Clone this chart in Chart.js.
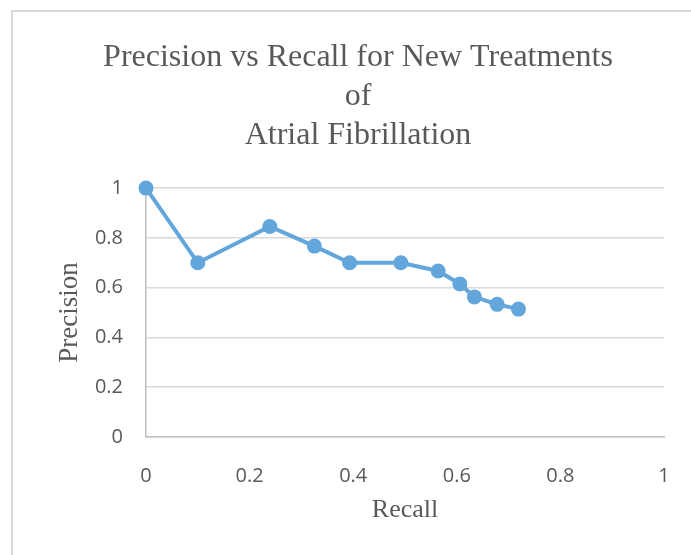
<!DOCTYPE html>
<html lang="en">
<head>
<meta charset="UTF-8">
<title>Precision vs Recall</title>
<script src="https://cdn.jsdelivr.net/npm/chart.js"></script>
<style>
  body { margin: 0; background: #fff; overflow: hidden; }
  canvas { display: block; }
</style>
</head>
<body>
<canvas id="grafico" width="691" height="555"></canvas>
<script>
// valores
const recall = [0, 0.1, 0.239, 0.325, 0.393, 0.492, 0.564, 0.606, 0.634, 0.678, 0.719];
const precision = [1, 0.7, 0.846, 0.767, 0.7, 0.7, 0.667, 0.615, 0.563, 0.533, 0.514];
const tituloLinhas = ['Precision vs Recall for New Treatments', 'of', 'Atrial Fibrillation'];

const pontos = [];
for (let i = 0; i < recall.length; i++) {
  pontos.push({ x: recall[i], y: precision[i] });
}

const cinza = '#595959';
const azul = '#63a6dc';
const serifa = '"Liberation Serif", "Times New Roman", serif';

function rotulo(v) {
  return String(Number(v.toFixed(1)));
}

// moldura do grafico (so topo e esquerda aparecem no recorte)
const moldura = {
  id: 'moldura',
  beforeDraw(chart) {
    const c = chart.ctx;
    c.save();
    c.fillStyle = '#fff';
    c.fillRect(0, 0, chart.width, chart.height);
    c.strokeStyle = '#d9d9d9';
    c.lineWidth = 2;
    c.beginPath();
    c.moveTo(12, chart.height);
    c.lineTo(12, 11);
    c.lineTo(chart.width, 11);
    c.stroke();
    c.restore();
  }
};

const ctx = document.getElementById('grafico').getContext('2d');
new Chart(ctx, {
  type: 'scatter',
  data: {
    datasets: [{
      label: 'Precision',
      data: pontos,
      showLine: true,
      clip: false,
      borderColor: azul,
      backgroundColor: azul,
      borderWidth: 4,
      pointRadius: 7.5,
      pointHoverRadius: 7.5,
      pointBorderWidth: 0
    }]
  },
  plugins: [moldura],
  options: {
    responsive: false,
    animation: false,
    layout: { padding: { left: 52, right: 27, top: 38, bottom: 18 } },
    plugins: {
      legend: { display: false },
      tooltip: { enabled: false },
      title: {
        display: true,
        text: tituloLinhas,
        color: cinza,
        font: { family: serifa, size: 32, weight: 'normal', lineHeight: 1.22 },
        padding: { top: 0, bottom: 33 }
      }
    },
    scales: {
      x: {
        type: 'linear',
        min: 0,
        max: 1,
        ticks: {
          stepSize: 0.2,
          color: cinza,
          padding: 14,
          callback: rotulo,
          font: { family: '"Open Sans", sans-serif', size: 20 }
        },
        // marcas invisiveis so para afastar os rotulos do eixo
        grid: { display: true, drawOnChartArea: false, drawTicks: true, tickLength: 13, color: 'rgba(0,0,0,0)' },
        border: { display: true, color: '#bfbfbf', width: 1.5 },
        title: {
          display: true,
          text: 'Recall',
          color: cinza,
          font: { family: serifa, size: 26 },
          padding: { top: 10, bottom: 11 }
        },
        afterFit: function (scale) { scale.height = 100; }
      },
      y: {
        type: 'linear',
        min: 0,
        max: 1,
        ticks: {
          stepSize: 0.2,
          color: cinza,
          padding: 23,
          callback: rotulo,
          font: { family: '"Open Sans", sans-serif', size: 20 }
        },
        grid: { color: '#d9d9d9', lineWidth: 1.5, drawTicks: false },
        border: { display: true, color: '#bfbfbf', width: 1.5 },
        title: {
          display: true,
          text: 'Precision',
          color: cinza,
          font: { family: serifa, size: 27 },
          padding: { top: 2, bottom: 0 }
        },
        afterFit: function (scale) { scale.width = 94; }
      }
    }
  }
});
</script>
</body>
</html>
